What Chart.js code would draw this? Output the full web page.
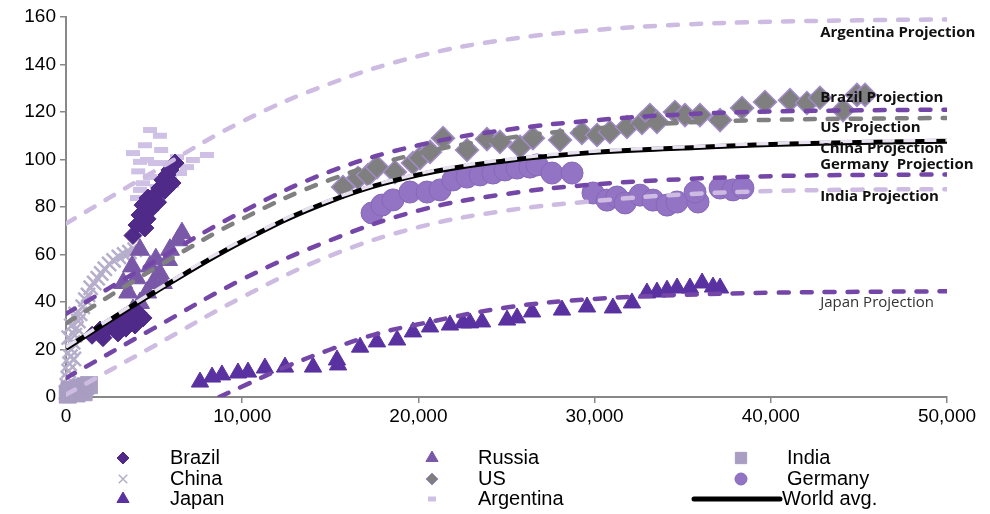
<!DOCTYPE html>
<html>
<head>
<meta charset="utf-8">
<script src="https://cdn.jsdelivr.net/npm/chart.js@4.4.0/dist/chart.umd.min.js"></script>
<style>
  html, body { margin: 0; padding: 0; background: #fff; }
</style>
</head>
<body>
<canvas id="chart" width="990" height="514"></canvas>
<script>
// scatter series (GDP per capita vs value)
const brazilX = [1480, 1930, 2100, 2380, 2780, 2950, 3180, 3400, 3630, 3920, 4090, 4370, 3800, 4030, 4200, 4370, 4480, 4600, 4650, 4770, 5050, 5200, 5330, 5500, 5600, 5730, 5900, 6020, 6190];
const brazilY = [26, 28.2, 25, 29, 29.5, 27, 31.6, 29, 33.3, 30.3, 35.4, 33.3, 68, 72.4, 76.6, 80.8, 71.2, 75, 83.8, 78.7, 85, 82, 88, 91.4, 87, 93.5, 95.6, 90.1, 98.5];

const russiaX = [3250, 3530, 3750, 3800, 4000, 4200, 4200, 4600, 4770, 4940, 5100, 5330, 5500, 5790, 5900, 6360, 6580];
const russiaY = [48, 44, 55, 36.6, 50, 62, 39.6, 44, 55, 48, 58, 52, 48, 57.7, 62, 66, 69];

const indiaX = [100, 200, 300, 500, 600, 700, 900, 1000, 1100, 1300];
const indiaY = [1, 3, 2, 3, 1.5, 3.5, 4, 2, 4.5, 5];

const chinaX = [0, 50, 100, 150, 150, 200, 250, 300, 300, 400, 450, 500, 550, 600, 700, 800, 950, 1100, 1250, 1400, 1600, 1800, 2000, 2200, 2450, 2700, 3000, 3300, 3600, 3900];
const chinaY = [2, 5, 8, 11, 25, 14, 17, 20, 30, 23, 16, 26, 35, 29, 32, 35, 38, 41, 43, 46, 48, 50, 52, 54, 56, 57.5, 59, 60, 61, 62];

const japanX = [7605, 8290, 8850, 9760, 10330, 11290, 12430, 14020, 15380, 15440, 16690, 17650, 18790, 19690, 20660, 21790, 22530, 22930, 23610, 25030, 25600, 26450, 28150, 29570, 31040, 32120, 32970, 33540, 34110, 34680, 35410, 36100, 36720, 37120];
const japanY = [6.3, 8.4, 9.3, 10.1, 10.5, 12.2, 12.6, 12.6, 15.6, 13.5, 21, 23.2, 24, 27.4, 29.5, 30.3, 31.2, 31.2, 31.6, 32.4, 33.3, 35.8, 36.6, 37.9, 37.5, 39.6, 43.8, 44.2, 45, 45.9, 45.9, 48, 46.3, 45.9];

const usX = [15720, 16570, 17140, 17650, 18670, 19690, 20090, 20660, 21400, 22760, 23890, 24630, 25770, 26500, 28040, 29280, 30140, 30870, 31840, 32690, 33140, 33540, 34560, 35130, 35980, 37120, 38370, 39670, 41090, 42050, 42790, 44100, 44890, 45350];
const usY = [88.4, 92.2, 93.5, 96.8, 94.7, 98.5, 100.6, 103.2, 109, 104, 108.6, 107.4, 105.3, 109, 108.2, 111.2, 110.3, 111.6, 113.7, 115.4, 118.7, 115.8, 120, 118.7, 118.7, 116.6, 121.7, 124.2, 125, 123.8, 126, 120.8, 127.2, 127.2];

const germanyX = [17370, 17930, 18560, 19520, 20490, 21230, 21960, 22760, 23500, 24230, 24910, 25600, 26330, 26730, 27580, 28720, 29910, 30700, 31270, 31730, 32580, 33310, 34110, 34680, 35870, 35700, 37120, 37850, 38420];
const germanyY = [77.5, 80.8, 83, 86.3, 86.3, 87.2, 91.4, 92.6, 93.5, 94.3, 95.6, 96.4, 96.8, 97.7, 94.3, 94.3, 85.9, 82.9, 84.2, 81.7, 85, 82.9, 80.8, 82.1, 82.1, 86.3, 88, 87.2, 88];

const argentinaX = [4770, 5330, 4480, 3800, 4600, 4200, 5050, 5730, 7200, 8000, 6870, 6470, 4770, 4370, 5160, 4200, 4940, 4030, 4770, 5900, 6020, 5400, 4100, 6300];
const argentinaY = [112.4, 110, 106, 102.7, 99.8, 99, 98.5, 98.5, 99.8, 101.9, 96.8, 94.3, 92.6, 90, 88.4, 87.2, 83.8, 83.8, 80, 93.5, 89.3, 104, 95, 101];

// projection curves
const projX = [0, 5000, 10000, 15000, 20000, 25000, 30000, 35000, 40000, 45000, 50000];
const argentinaProj = [73, 95, 116, 132, 143.5, 150.5, 154.5, 156.8, 158, 158.6, 159];
const brazilProj = [35, 57, 78, 95, 106, 112.5, 116.5, 119, 120.2, 120.7, 121];
const usProj = [31, 54, 75, 91.5, 102.5, 109, 113, 115.5, 116.7, 117.2, 117.5];
const worldAvg = [20.5, 44, 65.5, 82.5, 93.5, 99.5, 103, 104.8, 106.3, 107.2, 107.7];
const chinaProj = [21, 44.5, 66, 83, 94, 100, 103.5, 105.3, 106.8, 107.7, 108.2];
const germanyProj = [8, 29, 49.5, 66, 78.5, 85.5, 89.5, 91.7, 93, 93.5, 93.7];
const indiaProj = [1, 21.5, 42, 59.5, 71.5, 78.5, 82.5, 85.3, 86.7, 87.3, 87.5];
const japanProjX = [8700, 10000, 12500, 15000, 17500, 20000, 25000, 30000, 35000, 40000, 45000, 50000];
const japanProj = [0, 4.4, 12.8, 20, 26.3, 30.6, 37.7, 41.3, 43, 43.9, 44.3, 44.5];

// labels at right end of the projections
const projLabels = ['Argentina Projection', 'Brazil Projection', 'US Projection', 'China Projection', 'Germany  Projection', 'India Projection', 'Japan Projection'];
const projLabelY = [153.2, 126, 113.3, 104.4, 97.7, 84.2, 39.6];
const projLabelX = 42800;

const xTicks = [0, 10000, 20000, 30000, 40000, 50000];

function pts(xs, ys) {
  return xs.map((x, i) => ({ x: x, y: ys[i] }));
}

const LIGHT = '#cdbbe2';
const PURPLE = '#7446a8';

function proj(label, xs, ys, color, extra) {
  return Object.assign({
    label: label,
    data: pts(xs, ys),
    showLine: true,
    pointRadius: 0,
    borderColor: color,
    borderWidth: 4.5,
    borderDash: [10, 13],
    borderCapStyle: 'round',
    tension: 0.4,
    order: 0
  }, extra || {});
}

function scatter(label, xs, ys, style, radius, fill, border, bw) {
  return {
    label: label,
    data: pts(xs, ys),
    pointStyle: style,
    pointRadius: radius,
    pointHoverRadius: radius,
    backgroundColor: fill,
    borderColor: border,
    pointBorderWidth: bw,
    showLine: false,
    clip: false,
    order: 2
  };
}

const datasets = [
  scatter('Brazil', brazilX, brazilY, 'rectRot', 9, '#4f2a88', '#4f2a88', 1),
  scatter('Russia', russiaX, russiaY, 'triangle', 11, '#7a58a8', '#7a58a8', 1),
  scatter('India', indiaX, indiaY, 'rect', 12, '#a99dc2', '#a99dc2', 1),
  scatter('China', chinaX, chinaY, 'crossRot', 10, '#b6aecb', '#b6aecb', 2.5),
  scatter('US', usX, usY, 'rectRot', 11.5, '#7f7f7f', '#a18bc6', 1.5),
  scatter('Germany', germanyX, germanyY, 'circle', 11, '#9374c4', '#8668b8', 1),
  scatter('Japan', japanX, japanY, 'triangle', 10, '#5a31a0', '#5a31a0', 1),
  scatter('Argentina', argentinaX, argentinaY, 'line', 7, '#cfc0e5', '#cfc0e5', 6),
  {
    label: 'World avg.',
    data: pts(projX, worldAvg),
    showLine: true,
    pointRadius: 0,
    borderColor: '#000',
    borderWidth: 5,
    tension: 0.4,
    order: 1
  },
  proj('Argentina Projection', projX, argentinaProj, LIGHT),
  proj('Brazil Projection', projX, brazilProj, PURPLE),
  proj('US Projection', projX, usProj, '#808080'),
  proj('China Projection', projX, chinaProj, '#e6e0ef', { borderWidth: 3.5, borderDash: [12, 9], borderCapStyle: 'butt' }),
  proj('Germany Projection', projX, germanyProj, PURPLE),
  proj('India Projection', projX, indiaProj, LIGHT),
  proj('Japan Projection', japanProjX, japanProj, PURPLE)
];

// legend grid: 3 columns, 3 rows, like the spreadsheet legend
const legendItems = ['Brazil', 'Russia', 'India', 'China', 'US', 'Germany', 'Japan', 'Argentina', 'World avg.'];
const legendPlugin = {
  id: 'gridLegend',
  afterDraw(chart) {
    const ctx = chart.ctx;
    const markX = [123, 432, 741];
    const textX = [170, 478, 787];
    const rowY = [458, 479, 499];
    ctx.save();
    ctx.font = '20px "Liberation Sans", Arial, sans-serif';
    ctx.textBaseline = 'middle';
    legendItems.forEach((name, i) => {
      const col = i % 3, row = Math.floor(i / 3);
      const ds = chart.data.datasets.find(d => d.label === name);
      const x = markX[col], y = rowY[row];
      if (name === 'World avg.') {
        ctx.strokeStyle = '#000';
        ctx.lineWidth = 5;
        ctx.lineCap = 'round';
        ctx.beginPath();
        ctx.moveTo(694, y);
        ctx.lineTo(780, y);
        ctx.stroke();
      } else {
        ctx.fillStyle = ds.backgroundColor;
        ctx.strokeStyle = ds.borderColor;
        ctx.lineWidth = ds.pointStyle === 'line' ? 5 : (ds.pointStyle === 'crossRot' ? 1.5 : 1);
        const r = { rectRot: 6, triangle: 7, rect: 8, crossRot: 6, circle: 6, line: 4 }[ds.pointStyle];
        Chart.helpers.drawPoint(ctx, { pointStyle: ds.pointStyle, radius: r, rotation: 0, borderWidth: 1 }, x, y);
      }
      ctx.fillStyle = '#000';
      ctx.fillText(name, name === 'World avg.' ? 782 : textX[col], y);
    });
    ctx.restore();
  }
};

const labelPlugin = {
  id: 'projLabels',
  afterDatasetsDraw(chart) {
    const ctx = chart.ctx;
    const xs = chart.scales.x, ys = chart.scales.y;
    ctx.save();
    ctx.textBaseline = 'middle';
    projLabels.forEach((t, i) => {
      const japan = t.indexOf('Japan') === 0;
      ctx.font = (japan ? '' : 'bold ') + '15px "Open Sans", "Noto Sans", sans-serif';
      ctx.fillStyle = japan ? '#333' : '#111';
      ctx.fillText(t, xs.getPixelForValue(projLabelX), ys.getPixelForValue(projLabelY[i]));
    });
    ctx.restore();
  }
};

new Chart(document.getElementById('chart').getContext('2d'), {
  type: 'scatter',
  data: { datasets: datasets },
  plugins: [labelPlugin, legendPlugin],
  options: {
    responsive: false,
    animation: false,
    layout: { padding: { top: 17, right: 43, left: 0, bottom: 0 } },
    plugins: {
      legend: { display: false },
      tooltip: { enabled: false }
    },
    scales: {
      x: {
        type: 'linear',
        min: 0,
        max: 50000,
        afterFit(scale) { scale.height = 117; },
        afterBuildTicks(scale) { scale.ticks = xTicks.map(v => ({ value: v })); },
        ticks: {
          padding: 2,
          color: '#000',
          font: { family: '"Liberation Sans", Arial, sans-serif', size: 19 },
          callback: v => v.toLocaleString('en-US')
        },
        grid: { drawOnChartArea: false, tickLength: 6, color: '#888', lineWidth: 1.5 },
        border: { color: '#888', width: 2 }
      },
      y: {
        min: 0,
        max: 160,
        afterFit(scale) { scale.width = 66; },
        ticks: {
          stepSize: 20,
          padding: 4,
          color: '#000',
          font: { family: '"Liberation Sans", Arial, sans-serif', size: 19 }
        },
        grid: { drawOnChartArea: false, tickLength: 6, color: '#888', lineWidth: 1.5 },
        border: { color: '#888', width: 2 }
      }
    }
  }
});
</script>
</body>
</html>
